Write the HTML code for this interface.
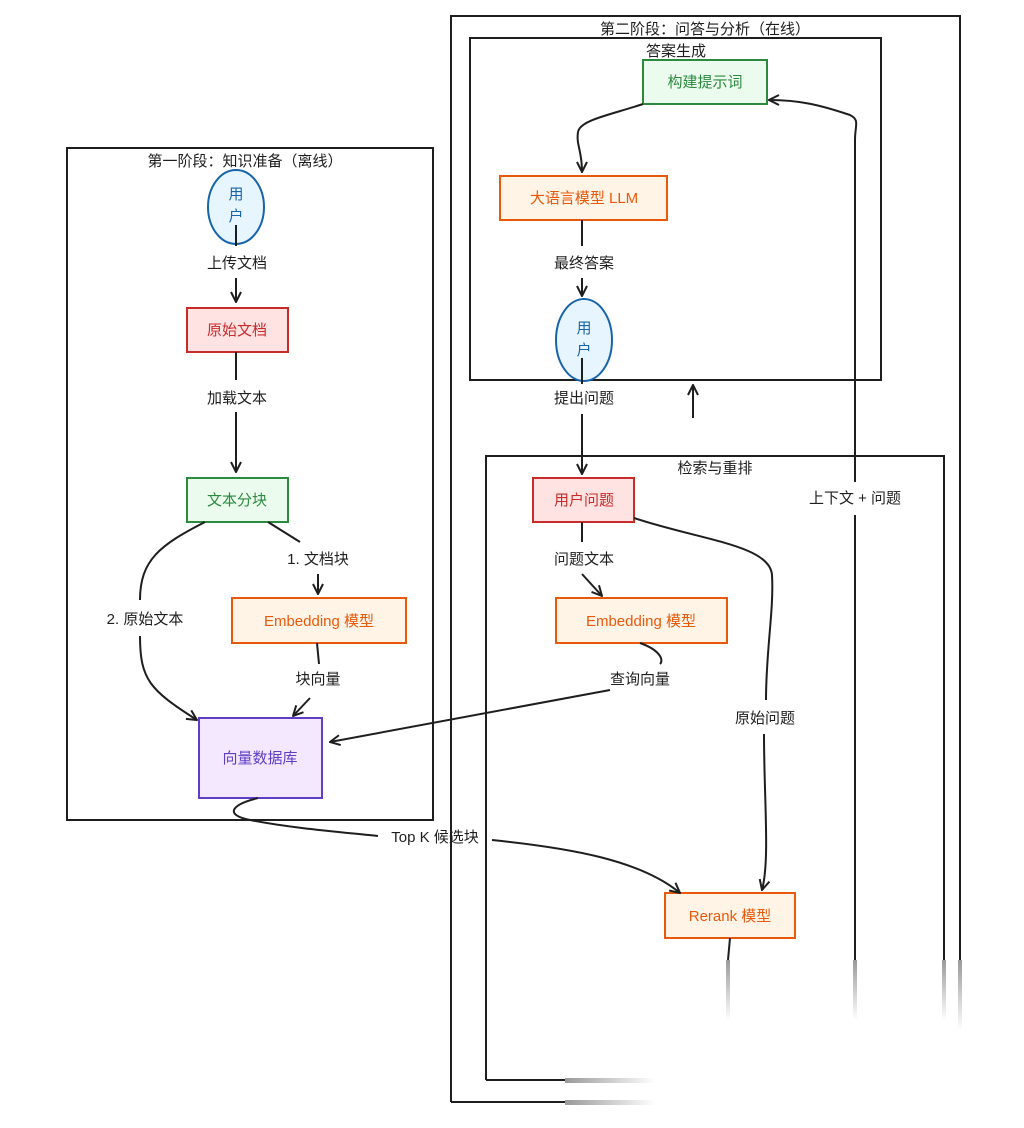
<!DOCTYPE html>
<html><head><meta charset="utf-8">
<style>
html,body{margin:0;padding:0;background:#fff;}
svg{display:block;}
text{font-family:"Liberation Sans","Noto Sans CJK SC",sans-serif;font-size:15px;fill:#1e1e1e;}
</style></head>
<body>
<svg width="1024" height="1128" viewBox="0 0 1024 1128" xmlns="http://www.w3.org/2000/svg">
<defs>
<marker id="a" viewBox="0 0 12 12" refX="11" refY="6" markerWidth="12" markerHeight="12" orient="auto" markerUnits="userSpaceOnUse">
<path d="M1 1 L11 6 L1 11" fill="none" stroke="#1e1e1e" stroke-width="2"/>
</marker>
<linearGradient id="fv" x1="0" y1="0" x2="0" y2="1"><stop offset="0" stop-color="#1e1e1e" stop-opacity="0.45"/><stop offset="1" stop-color="#1e1e1e" stop-opacity="0"/></linearGradient>
<linearGradient id="fh" x1="0" y1="0" x2="1" y2="0"><stop offset="0" stop-color="#1e1e1e" stop-opacity="0.45"/><stop offset="1" stop-color="#1e1e1e" stop-opacity="0"/></linearGradient>
</defs>
<g fill="none" stroke="#1e1e1e" stroke-width="2">
<rect x="67" y="148" width="366" height="672"/>
<path d="M451 960 L451 1102 M451 1102 L565 1102 M451 960 L451 16 L960 16 L960 960"/>
<rect x="470" y="38" width="411" height="342"/>
<path d="M486 1080 L486 456 L944 456 L944 960 M486 1080 L565 1080"/>
</g>
<rect x="565" y="1078" width="90" height="5" fill="url(#fh)"/>
<rect x="565" y="1100" width="90" height="5" fill="url(#fh)"/>
<rect x="942" y="960" width="4" height="60" fill="url(#fv)"/>
<rect x="958" y="960" width="4" height="70" fill="url(#fv)"/>
<rect x="853" y="960" width="4" height="60" fill="url(#fv)"/>
<rect x="726" y="960" width="4" height="60" fill="url(#fv)"/>

<text x="245" y="166" text-anchor="middle">第一阶段：知识准备（离线）</text>
<text x="705" y="34" text-anchor="middle">第二阶段：问答与分析（在线）</text>
<text x="676" y="56" text-anchor="middle">答案生成</text>
<text x="715" y="473" text-anchor="middle">检索与重排</text>

<ellipse cx="236" cy="207" rx="28" ry="37" fill="#e7f5ff" stroke="#1864ab" stroke-width="2"/>
<text x="236" y="199" text-anchor="middle" style="fill:#1864ab">用</text>
<text x="236" y="221" text-anchor="middle" style="fill:#1864ab">户</text>
<rect x="187" y="308" width="101" height="44" fill="#ffe3e3" stroke="#c92a2a" stroke-width="2"/>
<text x="237" y="335" text-anchor="middle" style="fill:#c92a2a">原始文档</text>
<rect x="187" y="478" width="101" height="44" fill="#ebfbee" stroke="#2b8a3e" stroke-width="2"/>
<text x="237" y="505" text-anchor="middle" style="fill:#2b8a3e">文本分块</text>
<rect x="232" y="598" width="174" height="45" fill="#fff4e6" stroke="#e8590c" stroke-width="2"/>
<text x="319" y="626" text-anchor="middle" style="fill:#e8590c">Embedding 模型</text>
<rect x="199" y="718" width="123" height="80" fill="#f3e8ff" stroke="#5f3dc4" stroke-width="2"/>
<text x="260" y="763" text-anchor="middle" style="fill:#5f3dc4">向量数据库</text>

<rect x="643" y="60" width="124" height="44" fill="#ebfbee" stroke="#2b8a3e" stroke-width="2"/>
<text x="705" y="87" text-anchor="middle" style="fill:#2b8a3e">构建提示词</text>
<rect x="500" y="176" width="167" height="44" fill="#fff4e6" stroke="#e8590c" stroke-width="2"/>
<text x="584" y="203" text-anchor="middle" style="fill:#e8590c">大语言模型 LLM</text>
<ellipse cx="584" cy="340" rx="28" ry="41" fill="#e7f5ff" stroke="#1864ab" stroke-width="2"/>
<text x="584" y="333" text-anchor="middle" style="fill:#1864ab">用</text>
<text x="584" y="355" text-anchor="middle" style="fill:#1864ab">户</text>
<rect x="533" y="478" width="101" height="44" fill="#ffe3e3" stroke="#c92a2a" stroke-width="2"/>
<text x="584" y="505" text-anchor="middle" style="fill:#c92a2a">用户问题</text>
<rect x="556" y="598" width="171" height="45" fill="#fff4e6" stroke="#e8590c" stroke-width="2"/>
<text x="641" y="626" text-anchor="middle" style="fill:#e8590c">Embedding 模型</text>
<rect x="665" y="893" width="130" height="45" fill="#fff4e6" stroke="#e8590c" stroke-width="2"/>
<text x="730" y="921" text-anchor="middle" style="fill:#e8590c">Rerank 模型</text>

<g fill="none" stroke="#1e1e1e" stroke-width="2">
<path d="M236 225 L236 246"/>
<path d="M236 278 L236 302" marker-end="url(#a)"/>
<path d="M236 352 L236 380"/>
<path d="M236 412 L236 472" marker-end="url(#a)"/>
<path d="M205 522 C160 545 140 560 140 600"/>
<path d="M140 636 C140 680 150 690 197 720" marker-end="url(#a)"/>
<path d="M268 522 L300 542"/>
<path d="M318 574 L318 594" marker-end="url(#a)"/>
<path d="M317 643 L319 664"/>
<path d="M310 698 L293 716" marker-end="url(#a)"/>
<path d="M640 643 C660 650 664 660 660 664"/>
<path d="M610 690 L330 742" marker-end="url(#a)"/>
<path d="M258 798 C230 805 225 815 250 820 C290 828 340 832 378 836"/>
<path d="M492 840 C570 848 640 860 680 893" marker-end="url(#a)"/>
<path d="M643 104 C610 115 580 120 578 132 C576 145 582 150 582 172" marker-end="url(#a)"/>
<path d="M582 220 L582 246"/>
<path d="M582 278 L582 296" marker-end="url(#a)"/>
<path d="M582 358 L582 384"/>
<path d="M582 414 L582 474" marker-end="url(#a)"/>
<path d="M693 418 L693 385" marker-end="url(#a)"/>
<path d="M582 522 L582 542"/>
<path d="M582 574 L602 596" marker-end="url(#a)"/>
<path d="M634 518 C700 540 770 545 772 575 C774 610 766 650 766 700"/>
<path d="M764 734 C764 800 770 860 762 890" marker-end="url(#a)"/>
<path d="M730 938 L728 960"/>
<path d="M855 960 L855 515"/>
<path d="M855 482 L855 140 C855 125 860 120 850 115 C820 105 800 100 769 100" marker-end="url(#a)"/>
</g>

<text x="237" y="268" text-anchor="middle">上传文档</text>
<text x="237" y="403" text-anchor="middle">加载文本</text>
<text x="145" y="624" text-anchor="middle">2. 原始文本</text>
<text x="318" y="564" text-anchor="middle">1. 文档块</text>
<text x="318" y="684" text-anchor="middle">块向量</text>
<text x="640" y="684" text-anchor="middle">查询向量</text>
<text x="435" y="842" text-anchor="middle">Top K 候选块</text>
<text x="584" y="268" text-anchor="middle">最终答案</text>
<text x="584" y="403" text-anchor="middle">提出问题</text>
<text x="584" y="564" text-anchor="middle">问题文本</text>
<text x="765" y="723" text-anchor="middle">原始问题</text>
<text x="855" y="503" text-anchor="middle">上下文 + 问题</text>
</svg>
</body></html>
